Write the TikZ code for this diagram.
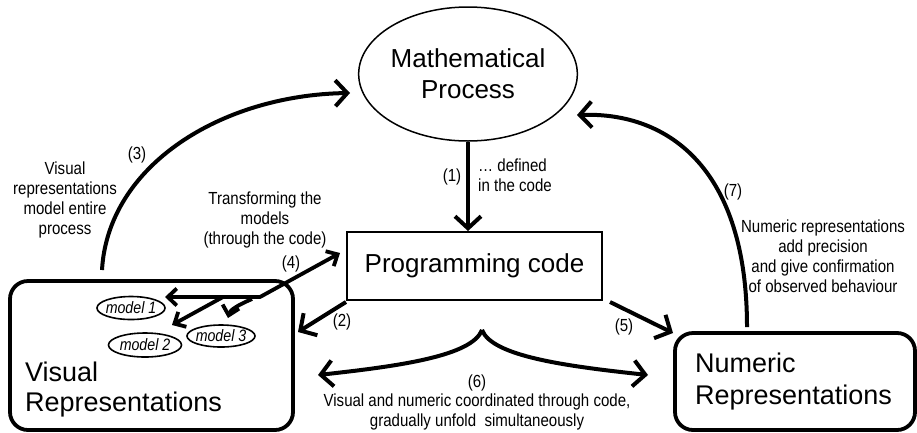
\documentclass[tikz,border=0pt]{standalone}
\usepackage{fontspec}
\setmainfont{Liberation Sans}
\newfontfamily\nar[FakeStretch=0.86]{Liberation Sans}
\usetikzlibrary{arrows.meta,shapes.geometric}
\begin{document}
\begin{tikzpicture}[x=1pt,y=-1pt,
  big/.style={font=\fontsize{26}{31}\selectfont,inner sep=0pt},
  small/.style={font=\nar\fontsize{17.5}{20}\selectfont,align=center,inner sep=0pt},
  arr/.style={line width=4pt,-{Straight Barb[length=12pt,width=26pt]}},
  arr4/.style={line width=3.8pt,-{Straight Barb[length=9pt,width=17pt]}},
  repbox/.style={draw,line width=3.8pt,rounded corners=18pt,inner sep=0pt},
  modelnode/.style={draw,ellipse,line width=1.6pt,inner xsep=-8pt,inner ysep=-3pt,font=\nar\itshape\fontsize{16.5}{20}\selectfont}]
\useasboundingbox (0,0) rectangle (917,432);

% main nodes
\node[draw,ellipse,line width=1.5pt,minimum width=214pt,minimum height=134pt,big,align=center] (math) at (468,74) {Mathematical\\Process};
\node[draw,line width=2pt,minimum width=255pt,minimum height=68pt,big] (code) at (474.5,266) {Programming code};
\node[repbox,minimum width=283pt,minimum height=149pt] (vis) at (151.5,355.5) {};
\node[repbox,minimum width=240pt,minimum height=97pt] (num) at (795,381.5) {};
\node[big,anchor=north west,align=left,font=\fontsize{27}{30}\selectfont] (vistext) at (25,362) {Visual\\Representations};
\node[big,anchor=north west,align=left,font=\fontsize{27}{32}\selectfont] (numtext) at (695,353) {Numeric\\Representations};

% models
\node[modelnode,minimum width=68pt,minimum height=23pt] (m1) at (131,308) {model 1};
\node[modelnode,minimum width=73pt,minimum height=24pt] (m2) at (145,345) {model 2};
\node[modelnode,minimum width=68pt,minimum height=22pt] (m3) at (221,336) {model 3};

% labels
\node[small] (l1) at (452,177) {(1)};
\node[small,align=left,anchor=west] (l1t) at (478,175) {\dots\ defined\\in the code};
\node[small] (l3) at (137,155) {(3)};
\node[small] (l3t) at (65,200) {Visual\\representations\\model entire\\process};
\node[small] (l4t) at (265,220) {Transforming the\\models\\(through the code)};
\node[small] (l4) at (291,264) {(4)};
\node[small] (l2) at (342,322) {(2)};
\node[small] (l5) at (624,327) {(5)};
\node[small] (l6) at (477,383) {(6)};
\node[small] (l6t) at (477,412) {Visual and numeric coordinated through code,\\gradually unfold\ \ simultaneously};
\node[small] (l7) at (733,192) {(7)};
\node[small] (l7t) at (823,256) {Numeric representations\\add precision\\and give confirmation\\of observed behaviour};

% coordinates
\coordinate (c3s) at (102,270);
\coordinate (c3e) at (350,93);
\coordinate (c7s) at (747,327);
\coordinate (c7e) at (577,115);
\coordinate (c2s) at (346,302);
\coordinate (c2e) at (298,332);
\coordinate (c5s) at (610,302);
\coordinate (c5e) at (673,333);
\coordinate (c6) at (482,330);
\coordinate (c6l) at (318,375);
\coordinate (c6r) at (648,375);
\coordinate (c4a) at (340,253);
\coordinate (c4j) at (260,297);
\coordinate (c4b) at (165,297);
\coordinate (c4m2s) at (223,297);
\coordinate (c4m2) at (172,325);
\coordinate (c4m3s) at (252,299);
\coordinate (c4m3) at (228,318);

% connectors
\draw[arr] (math.south) -- (math.south |- code.north);
\draw[arr] (c3s) .. controls (108,165) and (222,95) .. (c3e);
\draw[arr] (c7s) .. controls (747,170) and (670,112) .. (c7e);
\draw[arr] (c2s) -- (c2e);
\draw[arr] (c5s) -- (c5e);
\draw[arr] (c6) .. controls (472,356) and (400,366) .. (c6l);
\draw[arr] (c6) .. controls (492,356) and (564,366) .. (c6r);
\draw[line width=3.8pt,{Straight Barb[length=9pt,width=17pt]}-{Straight Barb[length=9pt,width=17pt]},line join=round] (c4a) -- (c4j) -- (c4b);
\draw[arr4] (c4m2s) -- (c4m2);
\draw[arr4] (c4m3s) .. controls (238,305) and (230,310) .. (c4m3);
\end{tikzpicture}
\end{document}
